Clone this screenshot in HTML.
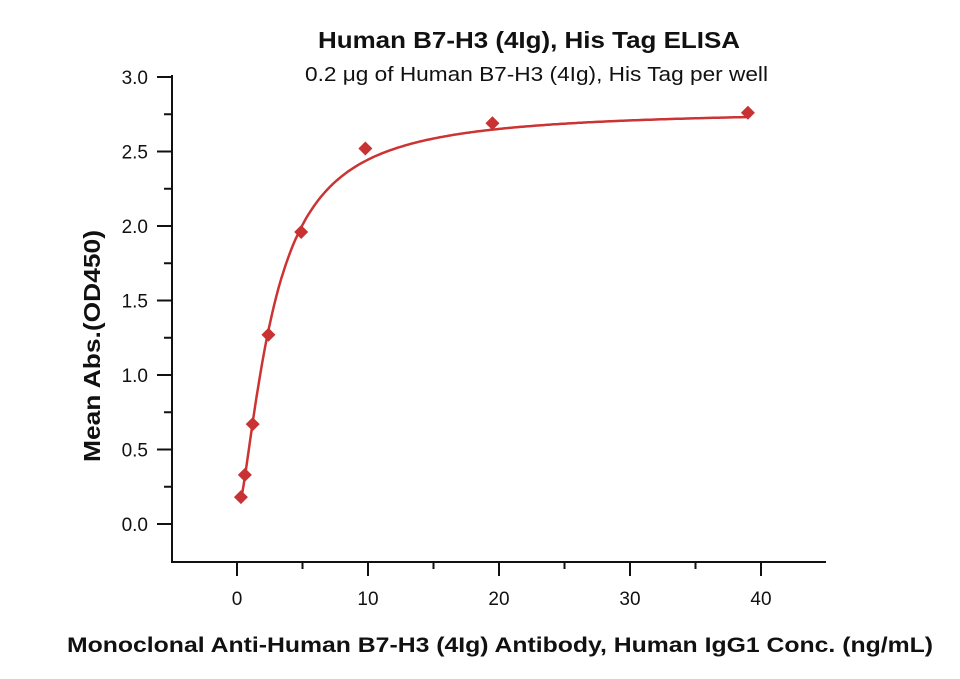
<!DOCTYPE html>
<html><head><meta charset="utf-8"><style>
body{margin:0;background:#fff;width:960px;height:674px;overflow:hidden}
text{font-family:"Liberation Sans",sans-serif;fill:#111}
</style></head><body>
<svg id="s" width="960" height="674" xmlns="http://www.w3.org/2000/svg">
<text x="318" y="48" font-size="23" font-weight="bold" textLength="422" lengthAdjust="spacingAndGlyphs">Human B7-H3 (4Ig), His Tag ELISA</text>
<text x="305" y="81" font-size="20" textLength="463" lengthAdjust="spacingAndGlyphs">0.2 μg of Human B7-H3 (4Ig), His Tag per well</text>
<text x="67" y="652" font-size="21" font-weight="bold" textLength="866" lengthAdjust="spacingAndGlyphs">Monoclonal Anti-Human B7-H3 (4Ig) Antibody, Human IgG1 Conc. (ng/mL)</text>
<text transform="translate(100,462) rotate(-90)" font-size="23" font-weight="bold" textLength="232" lengthAdjust="spacingAndGlyphs">Mean Abs.(OD450)</text>
<g stroke="#111" stroke-width="2" fill="none">
<line x1="172" y1="75" x2="172" y2="563"/>
<line x1="171" y1="562" x2="826" y2="562"/>
</g>
<g id="ticks" stroke="#111" stroke-width="2"></g>
<g id="lbl"></g>
<path id="curve" fill="none" stroke="#cc3333" stroke-width="2.5"/>
<g id="pts" fill="#c83232"></g>
</svg>
<script>
var X=function(x){return 237+13.1*x},Y=function(y){return 524-149*y};
var t=document.getElementById('ticks'),l=document.getElementById('lbl'),h='',g='';
for(var i=0;i<=6;i++){var y=Y(i*0.5);h+='<line x1="157" y1="'+y+'" x2="172" y2="'+y+'"/>';g+='<text x="148" y="'+(y+7)+'" text-anchor="end" font-size="19">'+(i*0.5).toFixed(1)+'</text>';}
for(var i=0;i<6;i++){var y=Y(i*0.5+0.25);h+='<line x1="164" y1="'+y+'" x2="172" y2="'+y+'"/>';}
for(var i=-1;i<=8;i++){var x=X(i*5);if(x<172||x>826)continue;h+='<line x1="'+x+'" y1="562" x2="'+x+'" y2="'+(i%2==0?576:569)+'"/>';if(i%2==0&&i>=0)g+='<text x="'+x+'" y="605" text-anchor="middle" font-size="19">'+(i*5)+'</text>';}
t.innerHTML=h;l.innerHTML=g;
var d='';for(var x=0.3;x<=39.01;x+=0.1){var r=Math.pow(x/2.7,1.5);var v=0.06+2.72*r/(1+r);d+=(d?'L':'M')+X(x).toFixed(1)+','+Y(v).toFixed(1);}
document.getElementById('curve').setAttribute('d',d);
var P=[[0.3,0.18],[0.6,0.33],[1.2,0.67],[2.4,1.27],[4.9,1.96],[9.8,2.52],[19.5,2.69],[39,2.76]],p='';
P.forEach(function(q){var x=X(q[0]),y=Y(q[1]);p+='<polygon points="'+x+','+(y-7)+' '+(x+7)+','+y+' '+x+','+(y+7)+' '+(x-7)+','+y+'"/>';});
document.getElementById('pts').innerHTML=p;
</script>
</body></html>
